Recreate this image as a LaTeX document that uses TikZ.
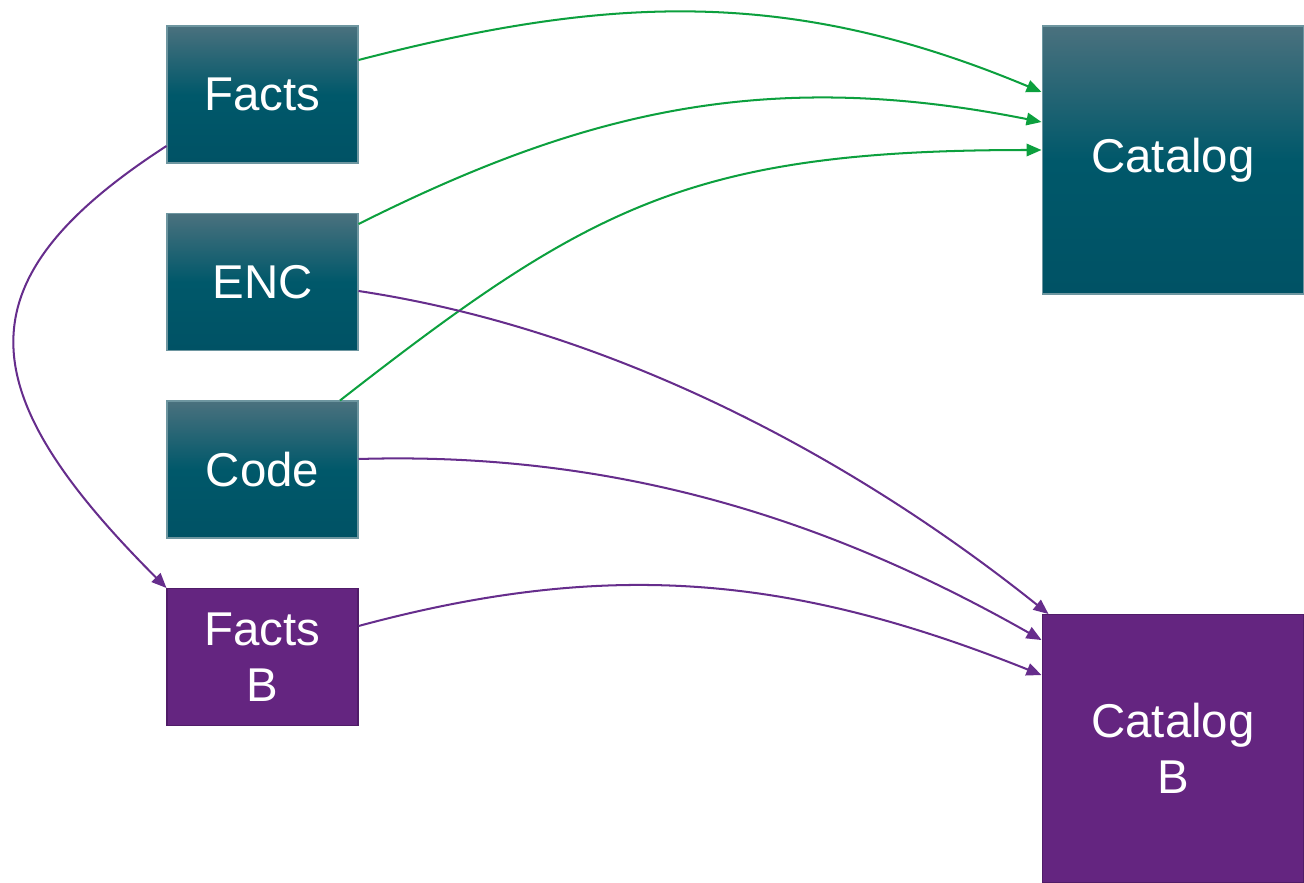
\documentclass[tikz,border=0pt]{standalone}
\usepackage{fontspec}
\setmainfont{Liberation Sans}
\usetikzlibrary{arrows.meta}

\definecolor{tealtop}{RGB}{74,113,126}
\definecolor{tealmid}{RGB}{0,88,106}
\definecolor{tealbot}{RGB}{0,82,101}
\definecolor{tealedge}{RGB}{110,150,160}
\definecolor{plumfill}{RGB}{100,37,128}
\definecolor{plumedge}{RGB}{80,28,104}
\definecolor{plumline}{RGB}{102,45,140}
\definecolor{leafline}{RGB}{12,160,62}

\begin{document}
\begin{tikzpicture}[x=0.02cm,y=-0.02cm,
  box/.style={rectangle, inner sep=0pt, align=center, text=white,
    font=\fontsize{27}{32}\selectfont, line width=0.6pt},
  tealbox/.style={box, draw=tealedge, top color=tealtop, bottom color=tealbot, middle color=tealmid},
  plumbox/.style={box, draw=plumedge, fill=plumfill},
  smallbox/.style={minimum width=3.82cm, minimum height=2.74cm},
  largebox/.style={minimum width=5.24cm, minimum height=5.36cm},
  link/.style={line width=1.15pt, -{Triangle[length=0.3cm,width=0.25cm]}},
  greenlink/.style={link, draw=leafline},
  purplelink/.style={link, draw=plumline}
]
\useasboundingbox (0,0) rectangle (1304,882);

% source boxes
\node[tealbox, smallbox] (Facts) at (262.5,94.5) {Facts};
\node[tealbox, smallbox] (ENC)   at (262.5,282)  {ENC};
\node[tealbox, smallbox] (Code)  at (262.5,469.5) {Code};
\node[plumbox, smallbox] (FactsB) at (262.5,657) {Facts\\B};

% targets
\node[tealbox, largebox] (Catalog)  at (1173,160)   {Catalog};
\node[plumbox, largebox] (CatalogB) at (1173,748.5) {Catalog\\B};

% green links into Catalog
\draw[greenlink] ([yshift=0.69cm]Facts.east)
  .. controls +(251,-65) and +(-251,-105) .. ([yshift=1.36cm]Catalog.west);
\draw[greenlink] ([yshift=1.16cm]ENC.east)
  .. controls +(220,-110) and +(-280,-56) .. ([yshift=0.76cm]Catalog.west);
\draw[greenlink] ([xshift=1.55cm]Code.north)
  .. controls +(250,-195) and +(-350,0) .. ([yshift=0.2cm]Catalog.west);

% purple links
\draw[purplelink] ([yshift=-1.03cm]Facts.west)
  .. controls +(-207,134) and +(-198,-198) .. (FactsB.north west);
\draw[purplelink] ([yshift=-0.18cm]ENC.east)
  .. controls +(250,37.5) and +(-200,-160) .. ([xshift=0.14cm]CatalogB.north west);
\draw[purplelink] ([yshift=0.21cm]Code.east)
  .. controls +(250,-7.5) and +(-220,-125) .. ([yshift=2.17cm]CatalogB.west);
\draw[purplelink] ([yshift=0.62cm]FactsB.east)
  .. controls +(250,-67.5) and +(-250,-100) .. ([yshift=1.47cm]CatalogB.west);
\end{tikzpicture}
\end{document}
